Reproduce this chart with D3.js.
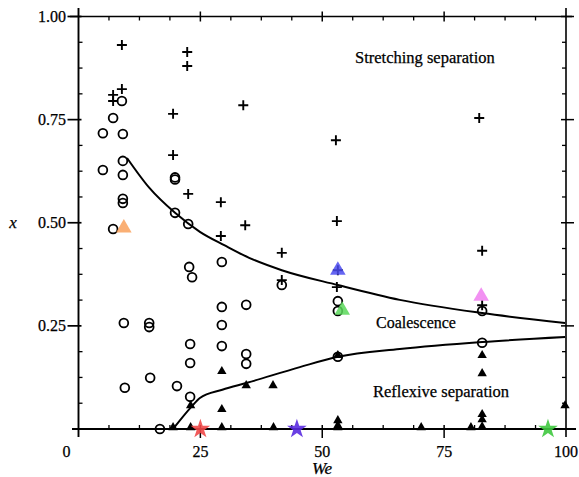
<!DOCTYPE html>
<html>
<head>
<meta charset="utf-8">
<script src="https://cdn.jsdelivr.net/npm/d3@7"></script>
<style>
  body { margin: 0; background: #fff; }
  svg { display: block; }
  text { font-family: "Liberation Serif", "Times New Roman", serif; fill: #000; stroke: #000; stroke-width: 0.25px; }
</style>
</head>
<body>
<svg id="chart" width="579" height="477"></svg>
<script>
// stretching separation (+) as [We, x]
const stretching = [
  [8.9, 0.931], [8.9, 0.824], [7.1, 0.81], [7.1, 0.795], [19.4, 0.764], [19.4, 0.664],
  [22.3, 0.914], [22.3, 0.88], [22.5, 0.57], [33.8, 0.785], [52.8, 0.70], [29.2, 0.55],
  [34.2, 0.494], [29.2, 0.468], [41.7, 0.427], [53, 0.504], [53, 0.344], [53.2, 0.385],
  [41.7, 0.361], [82.8, 0.432], [82.2, 0.754], [82.8, 0.30]
];

// coalescence (o)
const coalescence = [
  [8.9, 0.795], [7.1, 0.754], [5.0, 0.717], [9.1, 0.715], [9.1, 0.65], [5.0, 0.628],
  [9.1, 0.616], [9.1, 0.558], [9.1, 0.548], [7.1, 0.485], [19.8, 0.61], [19.8, 0.605],
  [19.8, 0.524], [22.5, 0.497], [22.7, 0.393], [23.3, 0.368], [9.3, 0.257], [14.5, 0.257],
  [14.5, 0.247], [22.9, 0.206], [22.9, 0.16], [14.7, 0.124], [9.5, 0.1], [20.2, 0.104],
  [22.9, 0.078], [16.7, 0], [29.4, 0.405], [29.4, 0.296], [34.4, 0.301], [41.7, 0.349],
  [53.2, 0.31], [53.2, 0.286], [29.4, 0.252], [29.4, 0.201], [34.4, 0.182], [34.4, 0.158],
  [53.2, 0.175], [82.8, 0.209], [82.8, 0.286]
];

// reflexive separation (filled triangles)
const reflexive = [
  [19.4, 0], [23, 0.053], [23, 0], [29.4, 0.136], [29.4, 0.044], [29.4, 0],
  [34.4, 0.102], [39.9, 0.102], [40, 0], [53.2, 0.017], [53.2, 0.005], [53.2, 0],
  [53.2, 0.175], [82.8, 0.175], [82.8, 0.131], [82.8, 0.032], [82.8, 0.019], [82.8, 0.002],
  [70.3, 0], [80.5, 0], [99.8, 0.053]
];

// boundary curves
const upperBoundary = [
  [9.95, 0.657], [14.5, 0.585], [19.8, 0.524], [24.9, 0.478], [30, 0.445], [35, 0.415],
  [41.7, 0.385], [53.2, 0.349], [65.9, 0.313], [82.8, 0.281], [99.8, 0.257]
];
const lowerBoundary = [
  [19.4, 0], [23.1, 0.053], [24.9, 0.075], [29.5, 0.095], [34.6, 0.112], [45.4, 0.15],
  [53.2, 0.175], [65.9, 0.194], [82.8, 0.211], [99.8, 0.223]
];

// highlighted markers
const bigTriangles = [[9.3, 0.487], [53.2, 0.385], [54.1, 0.288], [82.6, 0.322]];
const bigTriangleColors = ["#f9a15c", "#4b4bf0", "#5ad85a", "#f07ef0"];
const stars = [[25, 0], [44.8, 0], [96.3, 0]];
const starColors = ["#f04848", "#5a2be0", "#3ec83e"];

// axes
const xTicks = [0, 25, 50, 75, 100];
const yTicks = [0.25, 0.5, 0.75, 1.0];
const yTickLabels = ["0.25", "0.50", "0.75", "1.00"];

const svg = d3.select("#chart");
const x = d3.scaleLinear().domain([0, 100]).range([78.5, 566]);
const y = d3.scaleLinear().domain([0, 1]).range([429, 16.5]);

const minorX = d3.range(0, 100.01, 6.25).filter(d => d % 25 != 0);
const minorY = d3.range(0, 1.001, 0.0625).filter(d => Math.abs(d * 4 - Math.round(d * 4)) > 1e-6);

const frame = svg.append("g").attr("stroke", "#000").attr("fill", "none");

// axis lines, slightly overrunning the corners like the original
frame.append("line").attr("x1", 72).attr("x2", 576).attr("y1", y(0)).attr("y2", y(0)).attr("stroke-width", 1.9);
frame.append("line").attr("x1", 70).attr("x2", 572).attr("y1", y(1)).attr("y2", y(1)).attr("stroke-width", 1.6);
frame.append("line").attr("x1", x(0)).attr("x2", x(0)).attr("y1", 8).attr("y2", 437).attr("stroke-width", 1.9);
frame.append("line").attr("x1", x(100)).attr("x2", x(100)).attr("y1", 8).attr("y2", 437).attr("stroke-width", 1.6);

// minor ticks point inwards
minorX.forEach(function (d) {
  frame.append("line").attr("x1", x(d)).attr("x2", x(d)).attr("y1", y(0)).attr("y2", y(0) - 4).attr("stroke-width", 1.3);
  frame.append("line").attr("x1", x(d)).attr("x2", x(d)).attr("y1", y(1)).attr("y2", y(1) + 4).attr("stroke-width", 1.3);
});
minorY.forEach(function (d) {
  frame.append("line").attr("x1", x(0)).attr("x2", x(0) + 4).attr("y1", y(d)).attr("y2", y(d)).attr("stroke-width", 1.3);
  frame.append("line").attr("x1", x(100)).attr("x2", x(100) - 4).attr("y1", y(d)).attr("y2", y(d)).attr("stroke-width", 1.3);
});

// major ticks cross the axes
xTicks.slice(1, 4).forEach(function (d) {
  frame.append("line").attr("x1", x(d)).attr("x2", x(d)).attr("y1", y(0) - 4).attr("y2", y(0) + 9).attr("stroke-width", 1.5);
  frame.append("line").attr("x1", x(d)).attr("x2", x(d)).attr("y1", y(1) - 5).attr("y2", y(1) + 5).attr("stroke-width", 1.5);
});
yTicks.forEach(function (d) {
  frame.append("line").attr("x1", x(0) - 11).attr("x2", x(0) + 3).attr("y1", y(d)).attr("y2", y(d)).attr("stroke-width", 1.7);
  frame.append("line").attr("x1", x(100) - 5).attr("x2", x(100) + 8).attr("y1", y(d)).attr("y2", y(d)).attr("stroke-width", 1.5);
});

// tick labels
svg.append("g").selectAll("text").data(xTicks).join("text")
  .attr("x", (d, i) => (i == 0 ? x(d) - 12 : x(d)))
  .attr("y", 457)
  .attr("text-anchor", "middle")
  .style("font-size", "16px")
  .text(d => d);

svg.append("g").selectAll("text").data(yTicks).join("text")
  .attr("x", 66)
  .attr("y", d => y(d) + 5.5)
  .attr("text-anchor", "end")
  .style("font-size", "16px")
  .text((d, i) => yTickLabels[i]);

svg.append("text").attr("x", 13).attr("y", 228).attr("text-anchor", "middle")
  .style("font-size", "17px").style("font-style", "italic").text("x");
svg.append("text").attr("x", 322).attr("y", 474).attr("text-anchor", "middle")
  .style("font-size", "17px").style("font-style", "italic").text("We");

// region labels
svg.append("text").attr("x", 355).attr("y", 63).style("font-size", "16.5px").text("Stretching separation");
svg.append("text").attr("x", 376).attr("y", 328).style("font-size", "16px").text("Coalescence");
svg.append("text").attr("x", 373).attr("y", 397).style("font-size", "16.5px").text("Reflexive separation");

// boundaries
const line = d3.line().x(d => x(d[0])).y(d => y(d[1])).curve(d3.curveMonotoneX);
svg.append("path").datum(upperBoundary).attr("d", line)
  .attr("fill", "none").attr("stroke", "#000").attr("stroke-width", 2);
svg.append("path").datum(lowerBoundary).attr("d", line)
  .attr("fill", "none").attr("stroke", "#000").attr("stroke-width", 2);

// markers
svg.append("g").selectAll("circle").data(coalescence).join("circle")
  .attr("cx", d => x(d[0])).attr("cy", d => y(d[1])).attr("r", 4.4)
  .attr("fill", "none").attr("stroke", "#000").attr("stroke-width", 1.8);

svg.append("g").selectAll("path").data(reflexive).join("path")
  .attr("transform", d => `translate(${x(d[0])},${y(d[1]) - 1.5})`)
  .attr("d", d3.symbol(d3.symbolTriangle, 38))
  .attr("fill", "#000");

svg.append("g").selectAll("path").data(stretching).join("path")
  .attr("transform", d => `translate(${x(d[0])},${y(d[1])})`)
  .attr("d", "M-5,0H5M0,-5V5")
  .attr("stroke", "#000").attr("stroke-width", 1.9);

svg.append("g").selectAll("path").data(bigTriangles).join("path")
  .attr("transform", d => `translate(${x(d[0])},${y(d[1])})`)
  .attr("d", d3.symbol(d3.symbolTriangle, 105))
  .attr("fill", (d, i) => bigTriangleColors[i])
  .attr("fill-opacity", 0.85);

svg.append("g").selectAll("path").data(stars).join("path")
  .attr("transform", d => `translate(${x(d[0])},${y(d[1])})`)
  .attr("d", d3.symbol(d3.symbolStar, 120))
  .attr("fill", (d, i) => starColors[i])
  .attr("fill-opacity", 0.9);
</script>
</body>
</html>
